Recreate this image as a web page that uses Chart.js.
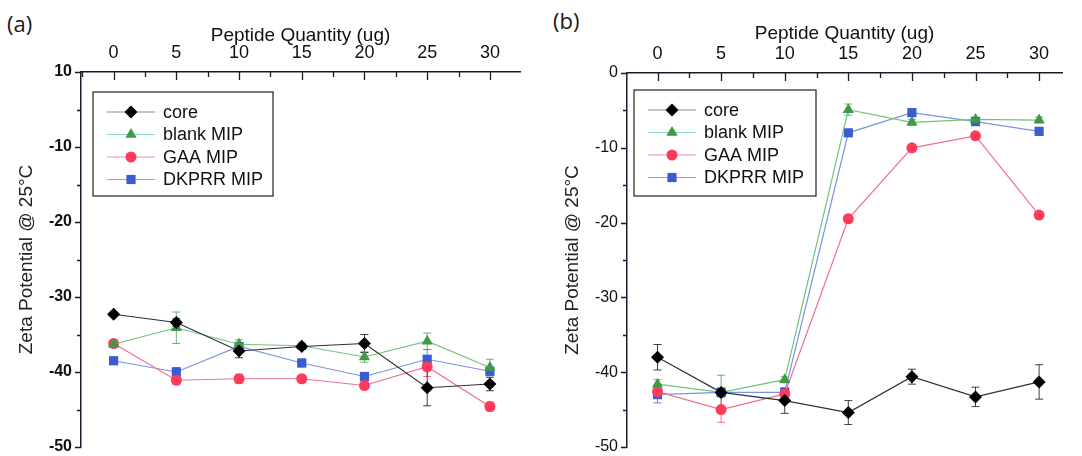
<!DOCTYPE html>
<html>
<head>
<meta charset="utf-8">
<script src="https://cdn.jsdelivr.net/npm/chart.js@4.4.0/dist/chart.umd.min.js"></script>
<style>
body { margin:0; background:#fff; width:1082px; height:456px; overflow:hidden; position:relative; }
canvas { position:absolute; top:0; }
#chartA { left:0; }
#chartB { left:541px; }
.tag { position:absolute; font-family:"Open Sans", sans-serif; font-size:22px; color:#1a1a1a; }
</style>
</head>
<body>
<div class="tag" style="left:7px;top:8px">(a)</div>
<div class="tag" style="left:553px;top:5px">(b)</div>
<canvas id="chartA" width="541" height="456"></canvas>
<canvas id="chartB" width="541" height="456"></canvas>
<script>
// peptide quantities (ug)
const quantities = [0, 5, 10, 15, 20, 25, 30];
const seriesNames = ['core', 'blank MIP', 'GAA MIP', 'DKPRR MIP'];
const xTicks = [0, 5, 10, 15, 20, 25, 30];
const yTicks = [-50, -40, -30, -20, -10, 0];
const yLabelsA = ['-50', '-40', '-30', '-20', '-10', '10'];
const yLabelsB = ['-50', '-40', '-30', '-20', '-10', '0'];

// panel (a)
const coreA  = [-32.3, -33.4, -37.2, -36.6, -36.2, -42.1, -41.6];
const blankA = [-36.3, -34.1, -36.3, -36.5, -38.0, -35.9, -39.4];
const gaaA   = [-36.2, -41.1, -40.9, -40.9, -41.8, -39.3, -44.6];
const dkprrA = [-38.5, -40.0, -36.6, -38.8, -40.6, -38.3, -39.9];
const coreErrA  = [0.3, 0.5, 0.9, 0.4, 1.2, 2.4, 0.9];
const blankErrA = [0.3, 2.1, 0.6, 0.5, 0.7, 1.1, 1.1];
const gaaErrA   = [0.3, 0.4, 0.6, 0.4, 0.4, 1.3, 0.6];
const dkprrErrA = [0.5, 0.6, 0.4, 0.5, 0.5, 1.3, 0.5];

// panel (b)
const coreB  = [-38.0, -42.7, -43.8, -45.4, -40.6, -43.3, -41.3];
const blankB = [-41.6, -42.7, -41.0, -4.9, -6.6, -6.2, -6.3];
const gaaB   = [-42.6, -45.0, -42.9, -19.5, -10.0, -8.4, -19.0];
const dkprrB = [-43.0, -42.7, -42.7, -8.0, -5.3, -6.5, -7.8];
const coreErrB  = [1.7, 0.5, 1.7, 1.6, 1.0, 1.3, 2.3];
const blankErrB = [0.6, 2.3, 0.4, 0.75, 0.4, 0.3, 0.4];
const gaaErrB   = [0.5, 1.7, 0.5, 0.5, 0.4, 0.4, 0.3];
const dkprrErrB = [1.1, 0.6, 0.5, 0.3, 0.4, 0.4, 0.3];

const lineColors = ['#2e2e38', '#72c47c', '#f0708c', '#7a94e0'];
const markColors = ['#000000', '#3f9a48', '#ff3b5c', '#3b5bd0'];
const legendLines = ['#8a8aa8', '#8ad8cc', '#f08cb0', '#8aa4e8'];
const pointStyles = ['rectRot', 'triangle', 'circle', 'rect'];
const pointSizes = [6.5, 6.5, 5.5, 6.5];

Chart.defaults.font.family = 'Arial, "Liberation Sans", sans-serif';
Chart.defaults.color = '#111';

function makeSets(values, errs) {
  return values.map((vals, k) => ({
    label: seriesNames[k],
    data: quantities.map((q, i) => ({x: q, y: vals[i]})),
    errors: errs[k],
    borderColor: lineColors[k],
    borderWidth: 1.2,
    pointStyle: pointStyles[k],
    pointRadius: pointSizes[k],
    pointHoverRadius: pointSizes[k],
    pointBackgroundColor: markColors[k],
    pointBorderColor: markColors[k],
    pointBorderWidth: 0,
    tension: 0,
    fill: false
  }));
}

const errorBars = {
  id: 'errorBars',
  beforeDatasetsDraw(chart) {
    const {ctx, scales: {x, y}} = chart;
    const sets = chart.data.datasets.slice().reverse();
    sets.forEach(ds => {
      const k = seriesNames.indexOf(ds.label);
      ctx.save();
      ctx.strokeStyle = markColors[k];
      ctx.globalAlpha = 0.75;
      ctx.lineWidth = 1;
      ds.data.forEach((p, i) => {
        const e = ds.errors[i];
        const px = x.getPixelForValue(p.x);
        const t = y.getPixelForValue(p.y + e), b = y.getPixelForValue(p.y - e);
        ctx.beginPath();
        ctx.moveTo(px, t); ctx.lineTo(px, b);
        ctx.moveTo(px - 4, t); ctx.lineTo(px + 4, t);
        ctx.moveTo(px - 4, b); ctx.lineTo(px + 4, b);
        ctx.stroke();
      });
      ctx.restore();
    });
  }
};

// major + minor tick marks: x ticks point down into the plot, y ticks point left
const tickMarks = {
  id: 'tickMarks',
  afterDraw(chart) {
    const {ctx, chartArea, scales: {x, y}} = chart;
    ctx.save();
    ctx.strokeStyle = '#1a1a2a';
    ctx.lineWidth = 1.3;
    ctx.beginPath();
    for (let v = -2.5; v <= x.max; v += 2.5) {
      if (v < x.min) continue;
      const px = Math.round(x.getPixelForValue(v)) + 0.5;
      const len = (v % 5 === 0) ? 8 : 5;
      ctx.moveTo(px, chartArea.top); ctx.lineTo(px, chartArea.top + len);
    }
    for (let v = -50; v <= 0; v += 5) {
      const py = Math.round(y.getPixelForValue(v)) + 0.5;
      const len = (v % 10 === 0) ? 6 : 4;
      ctx.moveTo(chartArea.left, py); ctx.lineTo(chartArea.left - len, py);
    }
    ctx.stroke();
    ctx.restore();
  }
};

const boxLegend = {
  id: 'boxLegend',
  afterDraw(chart, args, opts) {
    const {ctx, chartArea} = chart;
    const left = chartArea.left + opts.dx, top = chartArea.top + opts.dy;
    ctx.save();
    ctx.strokeStyle = '#222';
    ctx.lineWidth = 1.2;
    ctx.strokeRect(left, top, opts.w, opts.h);
    ctx.font = '18px Arial, "Liberation Sans", sans-serif';
    ctx.textBaseline = 'middle';
    chart.data.datasets.forEach((ds, k) => {
      const cy = top + 20 + k * 22.5;
      ctx.strokeStyle = legendLines[k];
      ctx.lineWidth = 1.2;
      ctx.beginPath();
      ctx.moveTo(left + 14, cy); ctx.lineTo(left + 62, cy);
      ctx.stroke();
      ctx.fillStyle = markColors[k];
      Chart.helpers.drawPoint(ctx, {pointStyle: pointStyles[k], radius: pointSizes[k], rotation: 0, borderWidth: 0}, left + 38, cy);
      ctx.fillStyle = '#111';
      ctx.fillText(ds.label, left + 70, cy + 1);
    });
    ctx.restore();
  }
};

function panel(id, sets, yLabels, cfg) {
  return new Chart(document.getElementById(id), {
    type: 'line',
    data: {datasets: sets},
    plugins: [errorBars, tickMarks, boxLegend],
    options: {
      responsive: false,
      animation: false,
      layout: {padding: {left: 0, right: cfg.padRight, top: 0, bottom: 9}},
      plugins: {
        legend: {display: false},
        tooltip: {enabled: false},
        boxLegend: cfg.legend
      },
      scales: {
        x: {
          type: 'linear',
          position: 'top',
          min: cfg.xMin,
          max: cfg.xMax,
          afterBuildTicks: s => { s.ticks = xTicks.map(v => ({value: v})); },
          afterFit: s => { s.height = cfg.top; s.paddingLeft = 0; s.paddingRight = 0; },
          grid: {display: false, drawTicks: false},
          border: {color: '#1a1a2a', width: 1.5},
          ticks: {font: {size: 18}, color: '#111', padding: 8, maxRotation: 0, autoSkip: false},
          title: {display: true, text: 'Peptide Quantity (ug)', font: {size: 19}, color: '#111', padding: {top: cfg.xTitlePad, bottom: 0}}
        },
        y: {
          type: 'linear',
          min: -50,
          max: 0,
          afterBuildTicks: s => { s.ticks = yTicks.map(v => ({value: v})); },
          afterFit: s => { s.width = cfg.left; s.paddingTop = 0; s.paddingBottom = 0; },
          grid: {display: false, drawTicks: false},
          border: {color: '#1a1a2a', width: 1.5},
          ticks: {
            font: {size: 16, weight: cfg.yBold ? 'bold' : 'normal'},
            color: '#111',
            padding: 9,
            callback: (v, i) => yLabels[i]
          },
          title: {display: true, text: 'Zeta Potential @ 25°C', font: {size: 19}, color: '#222', padding: {top: cfg.yTitlePad, bottom: 0}}
        }
      }
    }
  });
}

panel('chartA',
  makeSets([coreA, blankA, gaaA, dkprrA], [coreErrA, blankErrA, gaaErrA, dkprrErrA]),
  yLabelsA,
  {left: 81, top: 72, padRight: 21, xMin: -2.6, xMax: 32.4, xTitlePad: 24, yTitlePad: 15, yBold: true,
   legend: {dx: 12, dy: 20, w: 180, h: 104}});

panel('chartB',
  makeSets([coreB, blankB, gaaB, dkprrB], [coreErrB, blankErrB, gaaErrB, dkprrErrB]),
  yLabelsB,
  {left: 86, top: 73, padRight: 20, xMin: -2.4, xMax: 31.8, xTitlePad: 22, yTitlePad: 20, yBold: false,
   legend: {dx: 7, dy: 17, w: 182, h: 106}});
</script>
</body>
</html>
